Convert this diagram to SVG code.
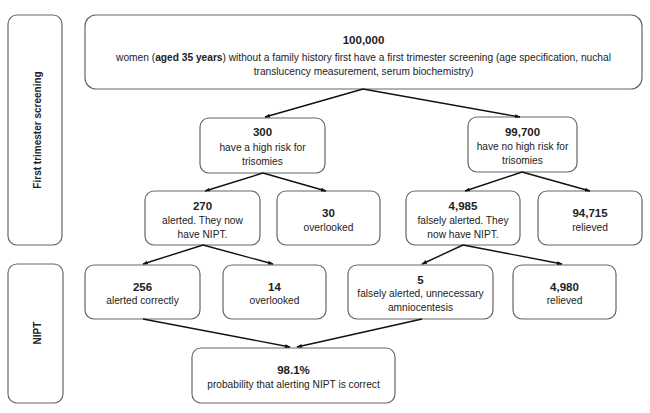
<svg xmlns="http://www.w3.org/2000/svg" width="650" height="413" viewBox="0 0 650 413">
<defs>
<style>
.box{fill:#fff;stroke:#666;stroke-width:1.2}
text{font-family:"Liberation Sans",Arial,sans-serif;fill:#222;text-anchor:middle}
.n{font-size:11.5px;font-weight:bold}
.t{font-size:10.2px}
.side{font-size:10px;font-weight:bold}
.c{stroke:#111;stroke-width:1.4;fill:none;marker-end:url(#ah)}
</style>
<marker id="ah" viewBox="0 0 10 10" refX="9" refY="5" markerWidth="4" markerHeight="4" orient="auto" markerUnits="strokeWidth">
<path d="M0,1.5 L10,5 L0,8.5 z" fill="#111"/>
</marker>
</defs>
<rect width="650" height="413" fill="#fff"/>

<g id="side-first">
<rect class="box" x="8" y="15" width="54" height="230" rx="9"/>
<text class="side" transform="translate(41,130) rotate(-90)">First trimester screening</text>
</g>
<g id="side-nipt">
<rect class="box" x="8" y="264" width="55" height="139" rx="9"/>
<text class="side" font-size="11px" transform="translate(41,333) rotate(-90)">NIPT</text>
</g>

<g id="n100000">
<rect class="box" x="85" y="15" width="557" height="74" rx="11"/>
<text class="n" x="363.5" y="44">100,000</text>
<text class="t" x="363.5" y="61">women (<tspan font-weight="bold">aged 35 years</tspan>) without a family history first have a first trimester screening (age specification, nuchal</text>
<text class="t" x="363.5" y="75">translucency measurement, serum biochemistry)</text>
</g>

<g id="n300">
<rect class="box" x="200" y="118" width="125" height="55" rx="9"/>
<text class="n" x="262.5" y="136">300</text>
<text class="t" x="262.5" y="151">have a high risk for</text>
<text class="t" x="262.5" y="165">trisomies</text>
</g>
<g id="n99700">
<rect class="box" x="468" y="117" width="109" height="55" rx="9"/>
<text class="n" x="522.5" y="136">99,700</text>
<text class="t" x="522.5" y="150">have no high risk for</text>
<text class="t" x="522.5" y="164">trisomies</text>
</g>

<g id="n270">
<rect class="box" x="145" y="191" width="115" height="54" rx="9"/>
<text class="n" x="202.5" y="210">270</text>
<text class="t" x="202.5" y="224">alerted. They now</text>
<text class="t" x="202.5" y="238">have NIPT.</text>
</g>
<g id="n30">
<rect class="box" x="277" y="191" width="103" height="54" rx="9"/>
<text class="n" x="328.5" y="217">30</text>
<text class="t" x="328.5" y="231">overlooked</text>
</g>
<g id="n4985">
<rect class="box" x="406" y="191" width="114" height="54" rx="9"/>
<text class="n" x="463" y="210">4,985</text>
<text class="t" x="463" y="224">falsely alerted. They</text>
<text class="t" x="463" y="238">now have NIPT.</text>
</g>
<g id="n94715">
<rect class="box" x="538" y="191" width="104" height="54" rx="9"/>
<text class="n" x="590" y="217">94,715</text>
<text class="t" x="590" y="231">relieved</text>
</g>

<g id="n256">
<rect class="box" x="85" y="265" width="115" height="54" rx="9"/>
<text class="n" x="142.5" y="291">256</text>
<text class="t" x="142.5" y="304">alerted correctly</text>
</g>
<g id="n14">
<rect class="box" x="223" y="265" width="103" height="54" rx="9"/>
<text class="n" x="274.5" y="291">14</text>
<text class="t" x="274.5" y="304">overlooked</text>
</g>
<g id="n5">
<rect class="box" x="348" y="265" width="145" height="54" rx="9"/>
<text class="n" x="420.5" y="284">5</text>
<text class="t" x="420.5" y="297">falsely alerted, unnecessary</text>
<text class="t" x="420.5" y="311">amniocentesis</text>
</g>
<g id="n4980">
<rect class="box" x="513" y="265" width="103" height="54" rx="9"/>
<text class="n" x="564.5" y="291">4,980</text>
<text class="t" x="564.5" y="304">relieved</text>
</g>

<g id="n981">
<rect class="box" x="192" y="348" width="203" height="55" rx="9"/>
<text class="n" x="293.5" y="374">98.1%</text>
<text class="t" x="293.5" y="388">probability that alerting NIPT is correct</text>
</g>

<g id="connectors">
<line class="c" x1="363" y1="89" x2="265" y2="117"/>
<line class="c" x1="363" y1="89" x2="520" y2="117"/>
<line class="c" x1="263" y1="173" x2="205" y2="191"/>
<line class="c" x1="263" y1="173" x2="326" y2="191"/>
<line class="c" x1="522" y1="172" x2="465" y2="191"/>
<line class="c" x1="522" y1="172" x2="590" y2="191"/>
<line class="c" x1="203" y1="245" x2="143" y2="264"/>
<line class="c" x1="203" y1="245" x2="273" y2="264"/>
<line class="c" x1="463" y1="245" x2="422" y2="264"/>
<line class="c" x1="463" y1="245" x2="562" y2="264"/>
<line class="c" x1="143" y1="319" x2="290" y2="347"/>
<line class="c" x1="422" y1="319" x2="297" y2="347"/>
</g>
</svg>
